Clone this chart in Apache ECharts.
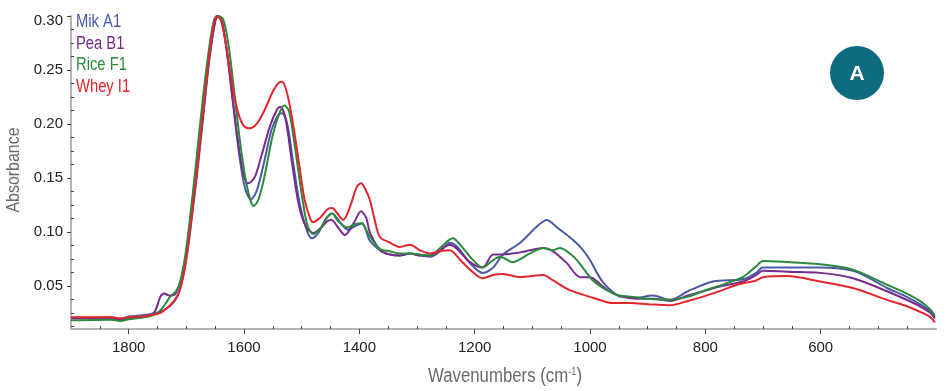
<!DOCTYPE html>
<html>
<head>
<meta charset="utf-8">
<script src="https://cdn.jsdelivr.net/npm/echarts@6/dist/echarts.min.js"></script>
<style>
html,body{margin:0;padding:0;background:#fff;}
#chart{width:947px;height:391px;}
</style>
</head>
<body>
<div id="chart"></div>
<script>
// ---- data (wavenumber cm-1, absorbance) ----
const seriesNames = ['Mik A1', 'Pea B1', 'Rice F1', 'Whey I1'];
const xMajorTicks = [600, 800, 1000, 1200, 1400, 1600, 1800];
const yMajorTicks = [0.05, 0.10, 0.15, 0.20, 0.25, 0.30];

const milkA1 = [[1900,0.0205],[1830,0.021],[1815,0.019],[1800,0.0215],[1770,0.023],[1745,0.026],[1725,0.033],[1712,0.045],[1700,0.075],[1690,0.115],[1680,0.16],[1670,0.21],[1660,0.26],[1650,0.295],[1645,0.300],[1638,0.295],[1628,0.26],[1618,0.215],[1608,0.17],[1598,0.14],[1588,0.130],[1578,0.138],[1565,0.165],[1552,0.195],[1540,0.209],[1534,0.210],[1525,0.200],[1515,0.165],[1503,0.125],[1490,0.100],[1482,0.094],[1470,0.100],[1458,0.112],[1447,0.117],[1435,0.110],[1420,0.102],[1405,0.106],[1395,0.108],[1382,0.092],[1364,0.083],[1347,0.079],[1330,0.078],[1312,0.080],[1295,0.078],[1277,0.077],[1260,0.082],[1243,0.090],[1230,0.086],[1208,0.071],[1186,0.062],[1168,0.067],[1151,0.079],[1121,0.090],[1092,0.105],[1075,0.111],[1057,0.104],[1035,0.095],[1015,0.085],[1000,0.074],[988,0.062],[977,0.053],[960,0.044],[948,0.040],[920,0.039],[891,0.041],[861,0.037],[830,0.045],[787,0.054],[735,0.056],[712,0.062],[700,0.067],[658,0.067],[601,0.067],[544,0.064],[515,0.057],[485,0.048],[455,0.041],[428,0.033],[410,0.026],[402,0.020]];

const peaB1 = [[1900,0.020],[1830,0.020],[1815,0.018],[1800,0.020],[1770,0.022],[1755,0.026],[1745,0.040],[1738,0.043],[1730,0.041],[1720,0.042],[1710,0.055],[1700,0.08],[1690,0.12],[1680,0.165],[1670,0.215],[1660,0.262],[1650,0.295],[1645,0.300],[1638,0.294],[1628,0.26],[1618,0.215],[1608,0.175],[1600,0.152],[1593,0.145],[1582,0.150],[1570,0.170],[1555,0.198],[1542,0.214],[1537,0.216],[1528,0.205],[1517,0.165],[1505,0.125],[1492,0.104],[1480,0.099],[1468,0.103],[1455,0.110],[1448,0.111],[1437,0.104],[1425,0.097],[1410,0.108],[1397,0.119],[1388,0.113],[1382,0.100],[1364,0.083],[1347,0.079],[1330,0.078],[1312,0.080],[1295,0.078],[1277,0.078],[1260,0.083],[1243,0.088],[1230,0.084],[1208,0.072],[1186,0.067],[1168,0.079],[1151,0.079],[1121,0.081],[1081,0.085],[1064,0.082],[1040,0.071],[1017,0.058],[1000,0.058],[977,0.049],[960,0.043],[943,0.040],[920,0.038],[890,0.038],[861,0.036],[830,0.041],[804,0.045],[770,0.050],[735,0.054],[712,0.060],[700,0.064],[658,0.063],[601,0.062],[544,0.057],[485,0.045],[455,0.038],[428,0.031],[410,0.025],[402,0.020]];

const riceF1 = [[1900,0.018],[1830,0.0185],[1815,0.0175],[1800,0.019],[1770,0.021],[1750,0.025],[1738,0.032],[1728,0.040],[1718,0.045],[1710,0.055],[1700,0.085],[1690,0.13],[1680,0.18],[1670,0.23],[1660,0.272],[1652,0.296],[1645,0.300],[1636,0.297],[1626,0.27],[1616,0.225],[1606,0.18],[1596,0.145],[1588,0.128],[1583,0.124],[1575,0.130],[1565,0.150],[1550,0.190],[1537,0.212],[1530,0.217],[1522,0.212],[1512,0.180],[1500,0.135],[1490,0.106],[1480,0.098],[1468,0.103],[1455,0.114],[1447,0.117],[1437,0.110],[1421,0.104],[1408,0.107],[1397,0.108],[1382,0.096],[1364,0.084],[1347,0.082],[1330,0.080],[1312,0.080],[1295,0.079],[1277,0.078],[1260,0.085],[1238,0.094],[1225,0.088],[1208,0.077],[1186,0.067],[1170,0.073],[1156,0.077],[1134,0.072],[1104,0.080],[1081,0.085],[1065,0.083],[1052,0.085],[1035,0.080],[1023,0.074],[1010,0.065],[995,0.055],[971,0.046],[950,0.041],[930,0.040],[900,0.038],[861,0.037],[830,0.040],[804,0.045],[760,0.053],[735,0.058],[712,0.068],[700,0.073],[658,0.072],[601,0.070],[544,0.065],[485,0.051],[455,0.044],[428,0.036],[410,0.028],[402,0.022]];

const wheyI1 = [[1900,0.021],[1830,0.021],[1815,0.020],[1800,0.021],[1770,0.022],[1745,0.025],[1730,0.031],[1720,0.037],[1712,0.045],[1703,0.065],[1695,0.095],[1685,0.14],[1675,0.19],[1665,0.24],[1655,0.285],[1648,0.300],[1640,0.296],[1630,0.27],[1620,0.235],[1610,0.21],[1600,0.198],[1590,0.196],[1578,0.200],[1565,0.212],[1550,0.230],[1540,0.238],[1534,0.239],[1525,0.228],[1515,0.200],[1505,0.165],[1495,0.130],[1485,0.112],[1480,0.109],[1468,0.113],[1455,0.121],[1447,0.122],[1438,0.117],[1428,0.111],[1415,0.125],[1405,0.141],[1397,0.145],[1390,0.140],[1382,0.130],[1372,0.108],[1364,0.095],[1347,0.090],[1330,0.086],[1312,0.088],[1295,0.083],[1277,0.080],[1260,0.082],[1243,0.083],[1225,0.074],[1208,0.065],[1186,0.057],[1168,0.060],[1151,0.061],[1121,0.058],[1081,0.060],[1064,0.055],[1035,0.046],[995,0.039],[960,0.034],[930,0.034],[900,0.033],[861,0.032],[830,0.036],[804,0.040],[770,0.046],[745,0.051],[712,0.055],[700,0.058],[658,0.059],[601,0.054],[544,0.048],[485,0.037],[455,0.032],[428,0.026],[410,0.021],[402,0.016]];

const seriesData = [milkA1, peaB1, riceF1, wheyI1];
const colors = ['#4b5aa6', '#7a2a8c', '#2c8a3c', '#e3262d'];

// minor ticks
const xMinorTicks = [];
for (let w = 450; w <= 1850; w += 50) if (w % 200 !== 0) xMinorTicks.push(w);
const yMinorTicks = [];
for (let k = 1; k <= 23; k++) { const v = +(0.0125 * k).toFixed(4); if (v > 0.01 && Math.abs(v / 0.05 - Math.round(v / 0.05)) > 1e-6) yMinorTicks.push(v); }

const sans = '"Liberation Sans", Arial, sans-serif';
const chart = echarts.init(document.getElementById('chart'));
const axisLineStyle = { color: '#b4b4b4', width: 2 };

const legendTexts = seriesNames.map((n, i) => ({
  type: 'text', x: 76, y: 22 + i * 21.7, scaleX: 0.82,
  style: { text: n, fill: colors[i], font: '18px ' + sans, textAlign: 'left', textVerticalAlign: 'middle' }, z: 10
}));

chart.setOption({
  animation: false,
  backgroundColor: '#ffffff',
  color: colors,
  grid: { left: 71, right: 11, top: 16, bottom: 62, containLabel: false, outerBoundsMode: 'none' },
  xAxis: [{
    type: 'value', min: 400, max: 1900, inverse: true,
    axisLine: { lineStyle: axisLineStyle },
    axisTick: { customValues: xMajorTicks, length: 5, lineStyle: { color: '#444' } },
    axisLabel: { customValues: xMajorTicks, color: '#222', fontFamily: sans, fontSize: 15, margin: 11, formatter: v => String(v) },
    splitLine: { show: false }
  }, {
    type: 'value', min: 400, max: 1900, inverse: true, position: 'bottom',
    axisLine: { show: false },
    axisTick: { customValues: xMinorTicks, inside: true, length: 3, lineStyle: { color: '#444' } },
    axisLabel: { show: false }, splitLine: { show: false }
  }],
  yAxis: [{
    type: 'value', min: 0.01, max: 0.30,
    axisLine: { show: true, lineStyle: axisLineStyle },
    axisTick: { show: true, customValues: yMajorTicks, length: 4, lineStyle: { color: '#444' } },
    axisLabel: { customValues: yMajorTicks, color: '#222', fontFamily: sans, fontSize: 15, margin: 8,
      formatter: v => (v > 0.29 ? '{t|' + v.toFixed(2) + '}' : v.toFixed(2)),
      rich: { t: { fontFamily: sans, fontSize: 15, color: '#222', padding: [10, 0, 0, 0] } } },
    splitLine: { show: false }
  }, {
    type: 'value', min: 0.01, max: 0.30, position: 'left',
    axisLine: { show: false },
    axisTick: { show: true, customValues: yMinorTicks, inside: true, length: 3, lineStyle: { color: '#444' } },
    axisLabel: { show: false }, splitLine: { show: false }
  }],
  series: seriesNames.map((n, i) => ({
    name: n, type: 'line', data: seriesData[i], showSymbol: false, symbol: 'none',
    smooth: 0.3, clip: false, lineStyle: { width: 2, color: colors[i] }, itemStyle: { color: colors[i] }
  })),
  graphic: legendTexts.concat([
    { type: 'text', x: 14, y: 170, rotation: Math.PI / 2, scaleX: 0.84,
      style: { text: 'Absorbance', fill: '#6a6a6a', font: '19px ' + sans, textAlign: 'center', textVerticalAlign: 'middle' } },
    { type: 'text', x: 505, y: 376, scaleX: 0.84,
      style: { text: 'Wavenumbers (cm{s|-1})', fill: '#6a6a6a', font: '20px ' + sans, textAlign: 'center', textVerticalAlign: 'middle',
        rich: { s: { fontSize: 11, fill: '#6a6a6a', fontFamily: sans, verticalAlign: 'top', padding: [0, 0, 9, 0] } } } },
    { type: 'circle', shape: { cx: 857, cy: 73, r: 27 }, style: { fill: '#0e6a7f' }, z: 10 },
    { type: 'text', x: 857, y: 74, style: { text: 'A', fill: '#fff', font: 'bold 21px ' + sans, textAlign: 'center', textVerticalAlign: 'middle' }, z: 11 }
  ])
});
</script>
</body>
</html>
